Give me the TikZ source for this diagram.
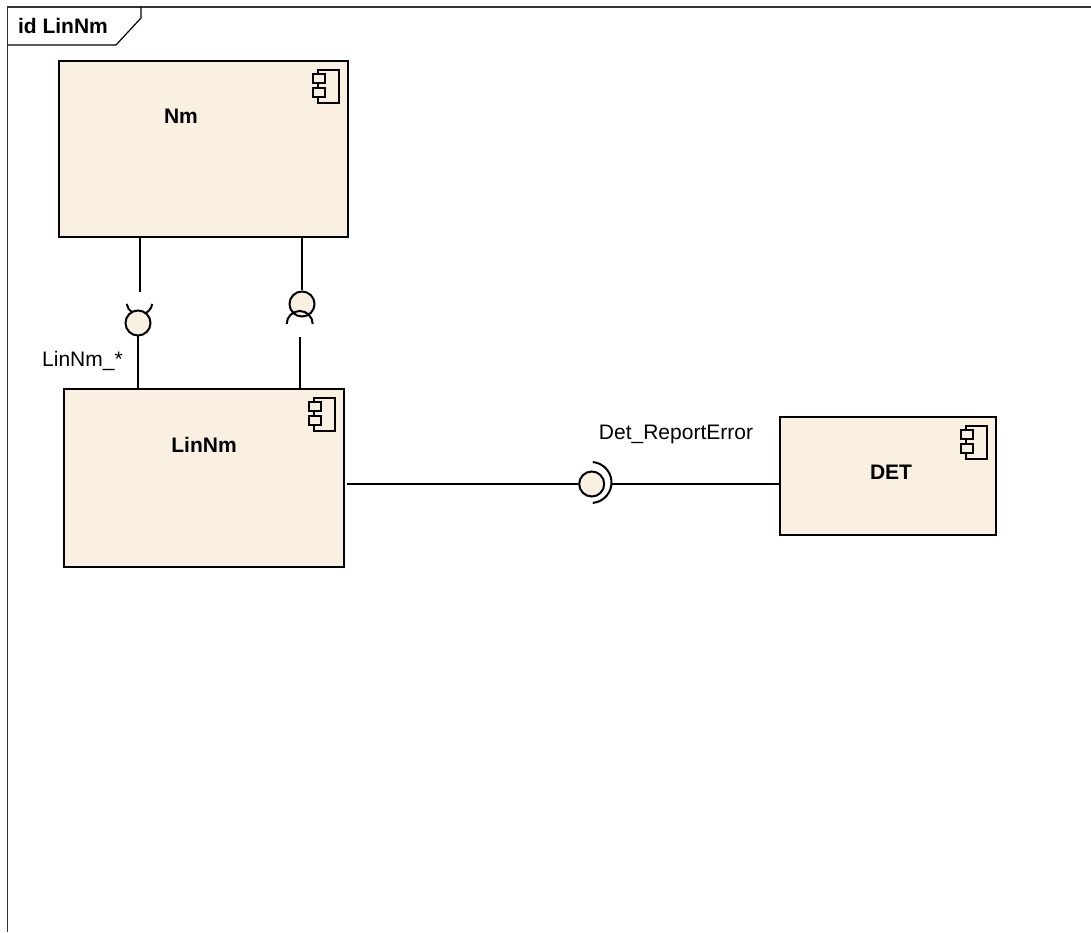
\documentclass[tikz,border=0pt]{standalone}
\usepackage{fontspec}
\setmainfont{Liberation Sans}
\definecolor{compfill}{HTML}{FAF0E2}
\begin{document}
\begin{tikzpicture}[x=1pt,
                    y=1pt,
                    line width=2pt,
                    font=\fontsize{21}{24}\selectfont,
                    ]
    \tikzstyle{component}=[rectangle,draw,fill=compfill,inner sep=0pt,line width=2pt];
    \tikzstyle{compname}=[inner sep=0pt,font=\fontsize{21}{24}\selectfont\bfseries];
    \tikzstyle{ball}=[circle,draw,fill=compfill,minimum size=25pt,inner sep=0pt,line width=2pt];
    \tikzstyle{iflabel}=[inner sep=0pt];
    \tikzstyle{framerule}=[line width=1.6pt,black!80];

    \useasboundingbox (0,0) rectangle (1091,932);

    % diagram frame, open to the right and the bottom
    \coordinate (frameBL) at (7.5,0);
    \coordinate (frameTL) at (7.5,925);
    \coordinate (frameTR) at (1091,925);
    \draw[framerule] (frameBL) -- (frameTL) -- (frameTR);
    \node[compname] (title) at (63,906) {id LinNm};
    \draw[line width=1.2pt] (7.5,887) -- (116,887) -- (141,914) -- (141,925);

    % components
    \node[component,minimum width=289pt,minimum height=176pt] (Nm) at (203.5,783) {};
    \node[component,minimum width=280.5pt,minimum height=178pt] (LinNm) at (203.75,454) {};
    \node[component,minimum width=216pt,minimum height=118pt] (DET) at (888,456) {};
    \node[compname] (NmName) at (181,816) {Nm};
    \node[compname] (LinNmName) at (204,487) {LinNm};
    \node[compname] (DETName) at (891,460) {DET};

    \foreach \comp in {Nm,LinNm,DET} {
        \draw[line width=1.5pt] ([shift={(-31,-10)}]\comp.north east) rectangle ([shift={(-10,-43)}]\comp.north east);
        \draw[line width=1.5pt,fill=compfill] ([shift={(-36,-14)}]\comp.north east) rectangle ([shift={(-24,-23)}]\comp.north east);
        \draw[line width=1.5pt,fill=compfill] ([shift={(-36,-28)}]\comp.north east) rectangle ([shift={(-24,-37)}]\comp.north east);
    }

    % required and provided interfaces
    \coordinate (leftEnd) at (140,640);
    \draw (leftEnd |- Nm.south) -- (leftEnd);
    \draw (139.5,630.3) ++(190:13) arc (190:350:13);
    \node[ball] (leftBall) at (138,609) {};
    \draw (leftBall |- LinNm.north) -- (leftBall.south);

    \node[ball] (rightBall) at (302,628) {};
    \draw (rightBall |- Nm.south) -- (rightBall.north);
    \draw (312.7,608) arc (0:180:13);
    \coordinate (rightEnd) at (300,595);
    \draw (rightEnd |- LinNm.north) -- (rightEnd);

    \node[ball] (detBall) at (591.7,448) {};
    \coordinate (lineStart) at (347,448);
    \coordinate (socketEnd) at (611.5,448);
    \draw (lineStart) -- (detBall.west);
    \draw (591,449.5) ++(-85:20.5) arc (-85:85:20.5);
    \draw (socketEnd) -- (socketEnd -| DET.west);

    % labels
    \node[iflabel] (linLabel) at (82.5,571) {LinNm\_*};
    \node[iflabel] (detLabel) at (676,498) {Det\_ReportError};
\end{tikzpicture}
\end{document}
